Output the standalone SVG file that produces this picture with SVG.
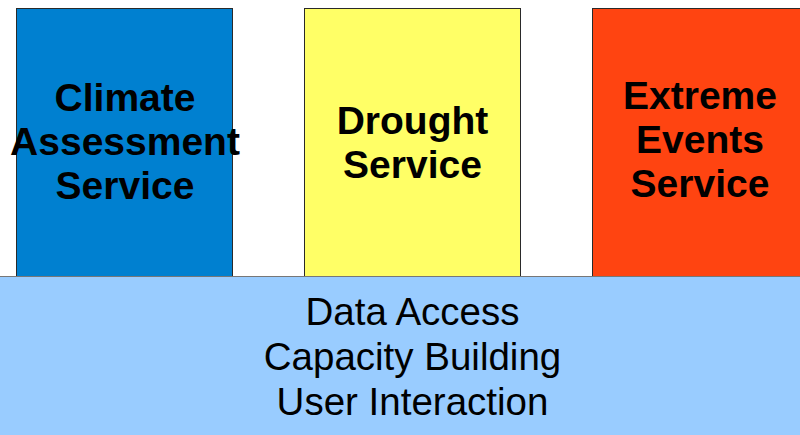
<svg xmlns="http://www.w3.org/2000/svg" width="800" height="435" viewBox="0 0 800 435">
<style>
.box{stroke:#2a2a2a;stroke-width:1}
.t{font-family:"Liberation Sans",Arial,sans-serif;font-weight:bold;font-size:39px;fill:#000;text-anchor:middle}
.b{font-family:"Liberation Sans",Arial,sans-serif;font-size:38.5px;fill:#000;text-anchor:middle}
</style>
<rect width="800" height="435" fill="#ffffff"/>
<g id="climate">
<rect class="box" x="16.5" y="8.5" width="216" height="268" fill="#0080D0"/>
<text class="t" x="125" y="111">Climate</text>
<text class="t" x="125" y="155">Assessment</text>
<text class="t" x="125" y="199">Service</text>
</g>
<g id="drought">
<rect class="box" x="304.5" y="8.5" width="216" height="268" fill="#FFFF66"/>
<text class="t" x="412.5" y="134">Drought</text>
<text class="t" x="412.5" y="178">Service</text>
</g>
<g id="extreme">
<rect class="box" x="592.5" y="8.5" width="216" height="268" fill="#FF4411"/>
<text class="t" x="700" y="109">Extreme</text>
<text class="t" x="700" y="153">Events</text>
<text class="t" x="700" y="197">Service</text>
</g>
<g id="base">
<rect x="-1" y="276.5" width="802" height="160" fill="#99CCFF" stroke="#777" stroke-width="1"/>
<text class="b" x="412.5" y="325">Data Access</text>
<text class="b" x="412.5" y="370">Capacity Building</text>
<text class="b" x="412.5" y="415">User Interaction</text>
</g>
<g id="connectors"/>
</svg>
